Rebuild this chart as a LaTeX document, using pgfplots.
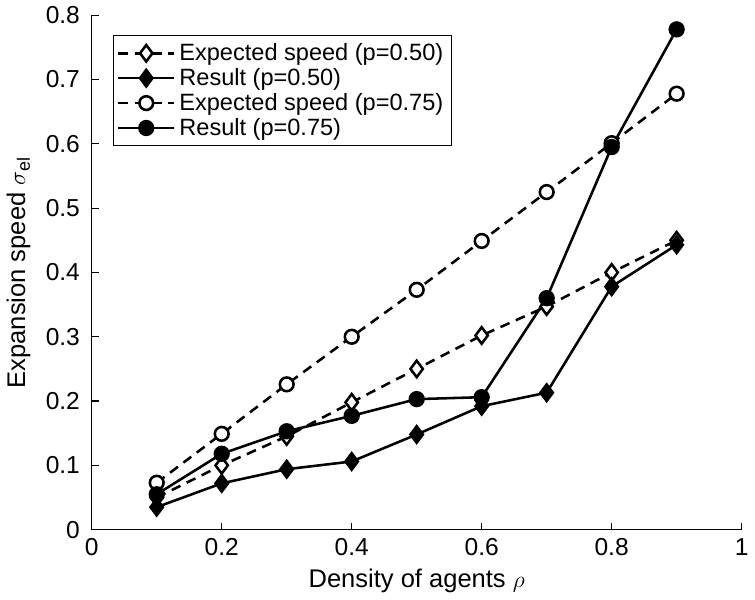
\documentclass[border=0pt]{standalone}
\usepackage{fontspec}
\setmainfont{Liberation Sans}
\usepackage{pgfplots}
\pgfplotsset{compat=1.18}

\begin{document}
\begin{tikzpicture}
\begin{axis}[
  scale only axis, width=331pt, height=262pt,
  xmin=0, xmax=1, ymin=0, ymax=0.8,
  xtick={0,0.2,...,1}, ytick={0,0.1,...,0.8},
  axis x line*=bottom, axis y line*=left,
  axis line style={line width=0.6pt, -},
  tick align=inside, major tick length=3.5pt,
  tick style={line width=0.6pt, black},
  /pgf/number format/assume math mode=true,
  tick label style={font=\fontsize{12.5}{14}\selectfont},
  yticklabel style={xshift=-2.5pt},
  xticklabel style={yshift=-1pt},
  label style={font=\fontsize{13}{15}\selectfont},
  xlabel={Density of agents $\rho$},
  ylabel={Expansion speed $\sigma$\textsubscript{el}},
  ylabel style={yshift=1pt},
  every axis plot/.append style={line width=1.3pt, black},
  legend style={at={(axis description cs:0.032,0.962)}, anchor=north west,
    font=\fontsize{12}{14}\selectfont, draw=black, line width=0.6pt,
    row sep=-1.5pt, inner sep=2pt},
  legend cell align=left,
  legend image code/.code={
    \draw[mark repeat=2, mark phase=2, #1] plot coordinates {(0cm,0cm) (0.5cm,0cm) (1cm,0cm)};},
]
\addplot[dashed, dash pattern=on 5pt off 3.5pt, mark=diamond*, mark size=4.2pt,
  mark options={solid, fill=white}] coordinates
  {(0.1,0.050) (0.2,0.100) (0.3,0.145) (0.4,0.198) (0.5,0.250) (0.6,0.302) (0.7,0.347) (0.8,0.400) (0.9,0.450)};
\addlegendentry{Expected speed (p=0.50)}
\addplot[solid, mark=diamond*, mark size=4.2pt, mark options={fill=black}] coordinates
  {(0.1,0.035) (0.2,0.072) (0.3,0.094) (0.4,0.106) (0.5,0.148) (0.6,0.192) (0.7,0.213) (0.8,0.378) (0.9,0.443)};
\addlegendentry{Result (p=0.50)}
\addplot[dashed, dash pattern=on 5pt off 3.5pt, mark=*, mark size=3.5pt,
  mark options={solid, fill=white}] coordinates
  {(0.1,0.073) (0.2,0.149) (0.3,0.226) (0.4,0.300) (0.5,0.373) (0.6,0.449) (0.7,0.525) (0.8,0.601) (0.9,0.678)};
\addlegendentry{Expected speed (p=0.75)}
\addplot[solid, mark=*, mark size=3.5pt, mark options={fill=black}] coordinates
  {(0.1,0.055) (0.2,0.118) (0.3,0.153) (0.4,0.177) (0.5,0.203) (0.6,0.206) (0.7,0.360) (0.8,0.595) (0.9,0.778)};
\addlegendentry{Result (p=0.75)}
\end{axis}
\end{tikzpicture}
\end{document}
